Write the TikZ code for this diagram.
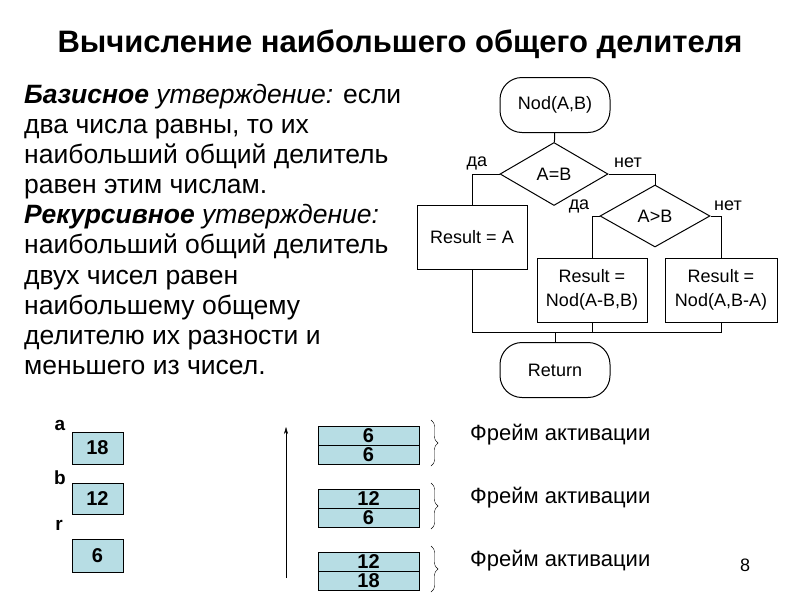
\documentclass[tikz,border=0pt]{standalone}
\usepackage{fontspec}
\setmainfont{Liberation Sans}
\usetikzlibrary{shapes.geometric,arrows.meta,decorations.pathreplacing}
\definecolor{cellblue}{RGB}{183,221,228}
\tikzset{
  term/.style={draw, line width=1pt, rounded corners=22pt, minimum width=110pt, minimum height=55pt, font=\fontsize{18}{20}\selectfont},
  ifbox/.style={draw, line width=1pt, diamond, inner sep=0pt, font=\fontsize{18}{20}\selectfont},
  actbox/.style={draw, line width=1pt, minimum width=110pt, minimum height=64pt, align=center, font=\fontsize{18}{24}\selectfont},
  branch/.style={font=\fontsize{18}{18}\selectfont, inner sep=0pt},
  varname/.style={font=\bfseries\fontsize{19}{19}\selectfont, inner sep=0pt},
  varcell/.style={draw, fill=cellblue, minimum width=51pt, inner sep=0pt, font=\bfseries\fontsize{20}{20}\selectfont},
  stackcell/.style={draw, fill=cellblue, minimum width=101pt, minimum height=19pt, inner sep=0pt, font=\bfseries\fontsize{20}{20}\selectfont},
}

\begin{document}
\begin{tikzpicture}[x=1pt, y=-1pt]
			%%%%% START %%%%%
			\useasboundingbox (0,0) rectangle (800,600);
			
			\node[font=\bfseries\fontsize{31}{33}\selectfont] (title) at (400,44) {Вычисление наибольшего общего делителя};
			
			\node[anchor=north west, align=left, inner sep=0pt, font=\fontsize{26.5}{30.1}\selectfont] (rules) at (24,84) {%
				{\bfseries\itshape Базисное} {\itshape утверждение:} если\\
				два числа равны, то их\\
				наибольший общий делитель\\
				равен этим числам.\\
				{\bfseries\itshape Рекурсивное} {\itshape утверждение:}\\
				наибольший общий делитель\\
				двух чисел равен\\
				наибольшему общему\\
				делителю их разности и\\
				меньшего из чисел.};
			
			% flowchart
			\node[term] (nod) at (555,105) {Nod(A,B)};
			\node[ifbox, minimum width=108pt, minimum height=63pt] (eq) at (554,174) {A=B};
			\node[actbox] (resa) at (472,237) {Result = A};
			\node[ifbox, minimum width=110pt, minimum height=62pt] (gt) at (655,216) {A>B};
			\node[actbox] (resab) at (592,290) {Result =\\Nod(A-B,B)};
			\node[actbox, minimum width=112pt] (resba) at (721,290) {Result =\\Nod(A,B-A)};
			\node[term] (ret) at (555,370) {Return};
			\coordinate (join) at (555,332);
			
			\draw[line width=1pt] (nod) -- (eq);
			\draw[line width=1pt] (eq.west) -| (resa.north);
			\draw[line width=1pt] (eq.east) -| (gt.north);
			\draw[line width=1pt] (gt.west) -| (resab.north);
			\draw[line width=1pt] (gt.east) -| (resba.north);
			\draw[line width=1pt] (resa.south) -- (resa.south |- join) -- (resba.south |- join) -- (resba.south);
			\draw[line width=1pt] (resab.south) -- (resab.south |- join);
			\draw[line width=1pt] (join) -- (ret);
			
			\node[branch] (yes1) at (477,163) {да};
			\node[branch] (no1) at (628,163) {нет};
			\node[branch] (yes2) at (579,206) {да};
			\node[branch] (no2) at (728,206) {нет};
			
			% variables
			\node[varname] (aname) at (60,425) {a};
			\node[varcell, minimum height=32pt] (aval) at (97.5,448) {18};
			\node[varname] (bname) at (60,478) {b};
			\node[varcell, minimum height=31pt] (bval) at (97.5,498.5) {12};
			\node[varname] (rname) at (59,525) {r};
			\node[varcell, minimum height=33pt] (rval) at (97.5,555.5) {6};
			
			% stack of frames
			\coordinate (stackbot) at (286,578);
			\coordinate (stacktop) at (286,427);
			\draw[-{Stealth[length=7pt,width=4pt]}] (stackbot) -- (stacktop);
			
			\foreach \top/\hi/\lo/\i in {426/6/6/1, 489/12/6/2, 552/12/18/3}{
				\node[stackcell] (hi\i) at (368.5,\top+9.5) {\hi};
				\node[stackcell] (lo\i) at (368.5,\top+28.5) {\lo};
				\draw[decorate, decoration={brace, amplitude=7pt}] (431,\top-6) -- (431,\top+40);
				\node[anchor=west, inner sep=0pt, font=\fontsize{22}{22}\selectfont] (frame\i) at (470,\top+9) {Фрейм активации};
			}
			
			\node[font=\fontsize{18}{18}\selectfont] (page) at (745,565) {8};
			%%%%% END %%%%%
\end{tikzpicture}
\end{document}
